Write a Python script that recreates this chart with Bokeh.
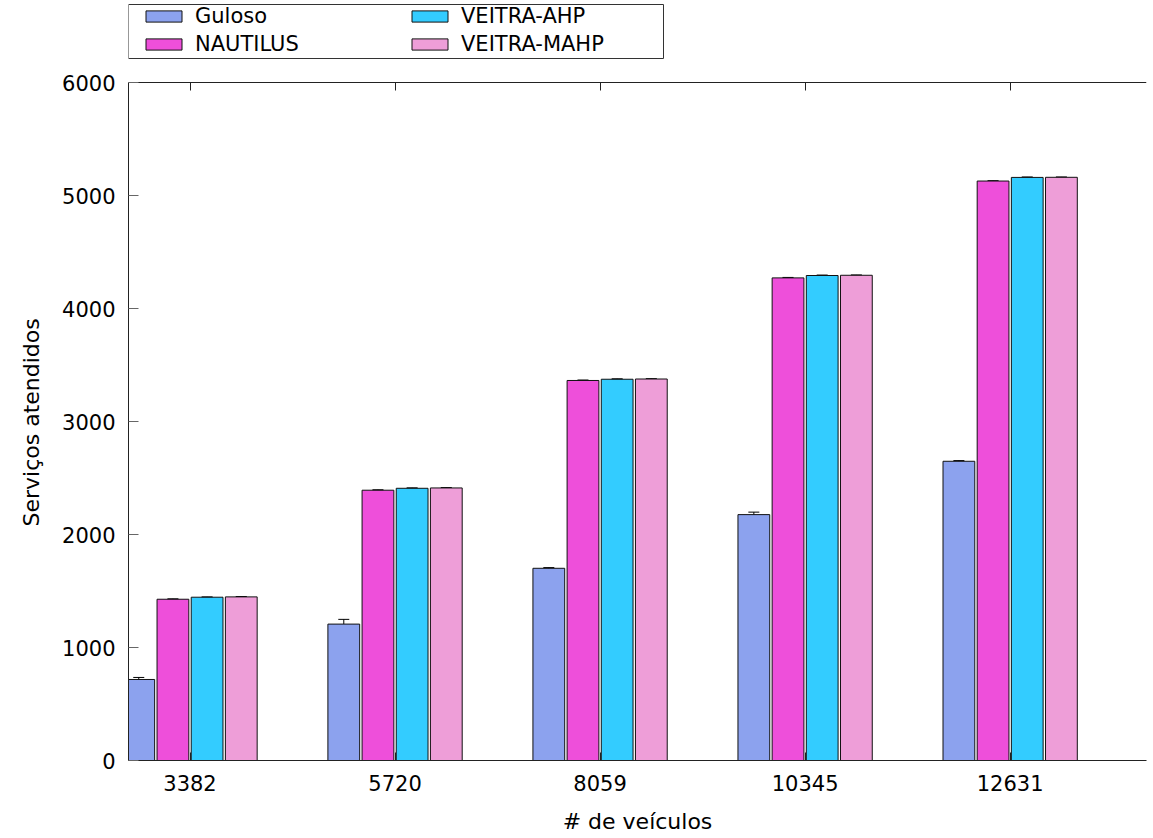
from bokeh.plotting import figure
from bokeh.models import (ColumnDataSource, FixedTicker, LinearAxis, Legend, LegendItem,
                          Whisker, TeeHead, Range1d, BoxAnnotation, Title)
from bokeh.embed import file_html
from bokeh.resources import INLINE

vehicles = ["3382", "5720", "8059", "10345", "12631"]
series = ["Guloso", "NAUTILUS", "VEITRA-AHP", "VEITRA-MAHP"]
guloso = [717, 1207, 1701, 2176, 2648]
nautilus = [1427, 2392, 3363, 4271, 5128]
veitra_ahp = [1445, 2409, 3374, 4292, 5160]
veitra_mahp = [1448, 2412, 3376, 4294, 5161]
guloso_err = [18, 42, 6, 22, 6]
nautilus_err = [4, 4, 4, 4, 3]
veitra_ahp_err = [3, 4, 4, 4, 4]
veitra_mahp_err = [3, 3, 3, 3, 3]
y_ticks = [0, 1000, 2000, 3000, 4000, 5000, 6000]

colors = ["#8ca2ee", "#ee4fda", "#33ccff", "#ee9ed8"]
FONT = "DejaVu Sans"

# layout geometry (pixels): plot box 678 px tall, with 82 px of room above it for the key
PLOT_H = 678
KEY_ROOM = 82
FRAME_H = PLOT_H + KEY_ROOM
y_top = y_ticks[-1]
y_end = y_top * FRAME_H / PLOT_H
YLABEL_LEN = 210  # approx. rendered length of the y title, px

p = figure(frame_width=1018, frame_height=FRAME_H, output_backend="svg", toolbar_location=None,
           x_range=Range1d(-0.3, 4.665), y_range=Range1d(0, y_end),
           min_border_left=128, min_border_top=0, min_border_bottom=0, min_border_right=7)
p.outline_line_color = None
p.grid.visible = False
p.background_fill_color = "white"
p.border_fill_color = "white"

values = [guloso, nautilus, veitra_ahp, veitra_mahp]
errs = [guloso_err, nautilus_err, veitra_ahp_err, veitra_mahp_err]
n = len(series)
group_w = 1.0 / (n + 2)
renderers = []
for k in range(n):
    off = (k - (n - 1) / 2) * group_w
    xs = [i + off for i in range(len(vehicles))]
    src = ColumnDataSource(dict(x=xs, top=values[k],
                                upper=[v + e for v, e in zip(values[k], errs[k])],
                                lower=[v - e for v, e in zip(values[k], errs[k])]))
    r = p.vbar(x="x", top="top", width=group_w * 0.93, bottom=0, source=src,
               fill_color=colors[k], line_color="#111111", line_width=1)
    renderers.append(r)
    w = Whisker(base="x", upper="upper", lower="lower", source=src,
                line_color="black", line_width=1,
                upper_head=TeeHead(size=11, line_color="black", line_width=1),
                lower_head=TeeHead(size=11, line_color="black", line_width=1))
    p.add_layout(w)

# x axis
xa = p.xaxis[0]
xa.ticker = FixedTicker(ticks=list(range(len(vehicles))))
xa.major_label_overrides = {i: v for i, v in enumerate(vehicles)}
xa.major_tick_in = 8
xa.major_tick_out = 0
xa.minor_tick_line_color = None
xa.axis_label = "# de veículos"
xa.axis_label_text_font = FONT
xa.axis_label_text_font_size = "22px"
xa.axis_label_text_font_style = "normal"
xa.axis_label_text_color = "black"
xa.axis_label_standoff = 15
xa.major_label_text_font = FONT
xa.major_label_text_font_size = "21px"
xa.major_label_text_color = "black"
xa.major_label_standoff = 14
xa.axis_line_color = "#222222"
xa.major_tick_line_color = "#222222"

ya = p.yaxis[0]
ya.ticker = FixedTicker(ticks=y_ticks)
ya.bounds = (y_ticks[0], y_ticks[-1])
ya.major_tick_in = 10
ya.major_tick_out = 0
ya.minor_tick_line_color = None
ya.major_label_text_font = FONT
ya.major_label_text_font_size = "21px"
ya.major_label_text_color = "black"
ya.major_label_standoff = 13
ya.axis_line_color = "#222222"
ya.major_tick_line_color = "#666666"

# y-axis title, centred on the value scale (which sits below the key room)
p.add_layout(Title(text="Serviços atendidos", align="left",
                   offset=FRAME_H - (KEY_ROOM + PLOT_H / 2) - YLABEL_LEN / 2,
                   text_font=FONT, text_font_size="22px", text_font_style="normal",
                   text_color="black", standoff=31), "left")

# top border line with inward ticks, at the top of the value scale
top = LinearAxis(ticker=FixedTicker(ticks=list(range(len(vehicles)))),
                 fixed_location=y_top,
                 major_tick_in=8, major_tick_out=0, minor_tick_line_color=None,
                 major_label_text_font_size="0px", major_label_standoff=0,
                 axis_line_color="#222222", major_tick_line_color="#222222")
p.add_layout(top, "above")

# key box (canvas pixels)
p.add_layout(BoxAnnotation(left=128, right=663, top=4, bottom=58,
                           left_units="canvas", right_units="canvas",
                           top_units="canvas", bottom_units="canvas",
                           fill_color="white", fill_alpha=1.0,
                           line_color="#333333", line_width=1, line_alpha=1.0))

common = dict(border_line_color=None, background_fill_alpha=0.0,
              label_text_font=FONT, label_text_font_size="21px", label_text_color="black",
              glyph_width=45, glyph_height=14, label_standoff=9,
              label_height=24, padding=0, spacing=4, margin=0)
leg1 = Legend(items=[LegendItem(label=series[0], renderers=[renderers[0]]),
                     LegendItem(label=series[1], renderers=[renderers[1]])],
              location=(13, FRAME_H - 56), **common)
leg2 = Legend(items=[LegendItem(label=series[2], renderers=[renderers[2]]),
                     LegendItem(label=series[3], renderers=[renderers[3]])],
              location=(279, FRAME_H - 56), **common)
p.add_layout(leg1)
p.add_layout(leg2)

open("out.html", "w").write(file_html(p, INLINE))
